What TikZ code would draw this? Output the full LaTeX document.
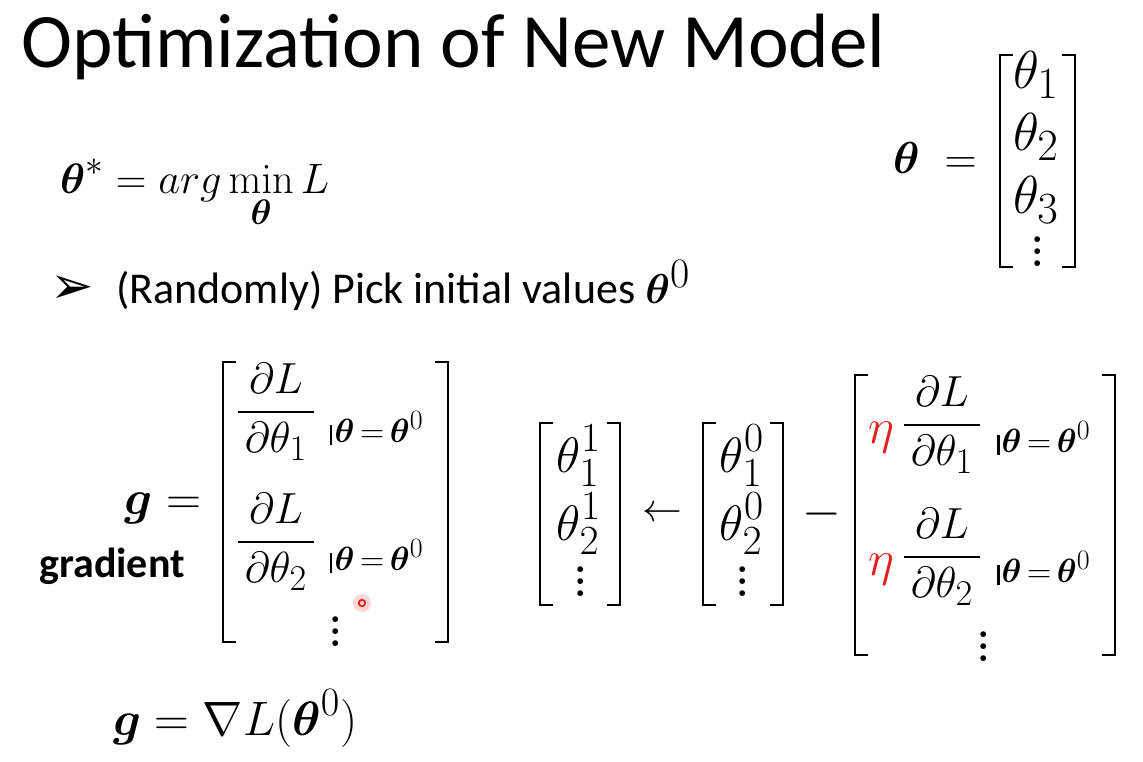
\documentclass[tikz,border=0pt]{standalone}
\usepackage{amsmath,bm,graphicx}
\usepackage[no-math]{fontspec}
\newfontfamily\slidefont{Carlito}
\newfontfamily\symfont{DejaVu Sans}
\definecolor{etared}{RGB}{232,30,30}
\tikzset{
    mth/.style = {inner sep=0pt, font=\fontsize{24.88}{30}\selectfont},
    txt/.style = {inner sep=0pt, font=\fontsize{44}{50}\selectfont\slidefont},
    ev/.style = {inner sep=0pt, anchor=base west, font=\fontsize{24.88}{30}\selectfont},
    brk/.style = {line width=2.8pt}
}
% math is scaled, the cm math fonts stop short of the slide sizes
\newcommand{\mx}[2]{\scalebox{#1}{$\displaystyle #2$}}
\newcommand{\vdts}{\scalebox{1.6}{\vbox{\baselineskip=7.5pt\lineskiplimit=0pt\hbox{\textbf{.}}\hbox{\textbf{.}}\hbox{\textbf{.}}}}}
\newcommand{\evalat}{\scalebox{1.35}{\rule[-2.2pt]{1.7pt}{15pt}\hspace{1.5pt}$\bm{\theta}\,{=}\,\bm{\theta}^{0}$}}
\begin{document}
\begin{tikzpicture}[x=1pt, y=-1pt]
    \useasboundingbox (0,0) rectangle (1143,761);
    \node[inner sep=0pt, anchor=base west, font=\fontsize{77}{80}\selectfont\slidefont] (title) at (21,67) {Optimization of New Model};
    % objective and parameter vector
    \node[mth, anchor=base west] (argmin) at (60,193) {\mx{1.71}{\bm{\theta}^{*} = arg\min_{\bm{\theta}} L}};
    \node[mth, anchor=base] (thetabf) at (935,173) {\mx{1.8}{\bm{\theta}\;=}};
    \node[mth, anchor=base] (t1) at (1036,88) {\mx{2.15}{\theta_1}};
    \node[mth, anchor=base] (t2) at (1036,150) {\mx{2.15}{\theta_2}};
    \node[mth, anchor=base] (t3) at (1036,213) {\mx{2.15}{\theta_3}};
    \node[mth] (tdots) at (1038,252) {\vdts};
    \draw[brk] (1013,55) -| (1000,267) -- (1013,267);
    \draw[brk] (1062,55) -| (1075,267) -- (1062,267);
    % initial values
    \node[inner sep=0pt, font=\fontsize{52}{56}\selectfont\symfont] (bullet) at (72,290) {➢};
    \node[txt, anchor=base west] (pick) at (116,303) {(Randomly) Pick initial values \scalebox{1.68}{$\bm{\theta}^{0}$}};
    % gradient
    \node[mth, anchor=base] (geq) at (163,514) {\mx{1.95}{\bm{g} =}};
    \node[inner sep=0pt, anchor=base, font=\fontsize{42}{48}\selectfont\slidefont\bfseries] (gradlbl) at (112,577) {gradient};
    \node[mth] (f1) at (276,412) {\mx{1.75}{\frac{\partial L}{\,\partial\theta_1\,}}};
    \node[ev] (e1) at (330,442) {\evalat};
    \node[mth] (f2) at (276,542) {\mx{1.75}{\frac{\partial L}{\,\partial\theta_2\,}}};
    \node[ev] (e2) at (330,570) {\evalat};
    \node[mth] (gdots) at (336,632) {\vdts};
    \draw[brk] (236,362) -| (223,642) -- (236,642);
    \draw[brk] (435,362) -| (448,642) -- (435,642);
    \fill[etared, opacity=0.18] (362,603) circle (9);
    \draw[etared, line width=1.8pt] (362,603) circle (3.2);
    % update rule
    \node[mth, anchor=base] (n1a) at (579,472) {\mx{2.0}{\theta_1^1}};
    \node[mth, anchor=base] (n1b) at (579,540) {\mx{2.0}{\theta_2^1}};
    \node[mth] (n1c) at (581,582) {\vdts};
    \draw[brk] (553,423) -| (540,605) -- (553,605);
    \draw[brk] (607,423) -| (620,605) -- (607,605);
    \node[mth] (larrow) at (662,514) {\mx{1.6}{\leftarrow}};
    \node[mth, anchor=base] (n0a) at (742,472) {\mx{2.0}{\theta_1^0}};
    \node[mth, anchor=base] (n0b) at (742,540) {\mx{2.0}{\theta_2^0}};
    \node[mth] (n0c) at (743,582) {\vdts};
    \draw[brk] (716,423) -| (703,605) -- (716,605);
    \draw[brk] (770,423) -| (783,605) -- (770,605);
    \node[mth] (minus) at (822,514) {\mx{2.0}{-}};
    \node[mth, anchor=base, text=etared] (eta1) at (881,443) {\mx{2.0}{\eta}};
    \node[mth] (f3) at (942,425) {\mx{1.75}{\frac{\partial L}{\,\partial\theta_1\,}}};
    \node[ev] (e3) at (997,452) {\evalat};
    \node[mth, anchor=base, text=etared] (eta2) at (881,575) {\mx{2.0}{\eta}};
    \node[mth] (f4) at (942,557) {\mx{1.75}{\frac{\partial L}{\,\partial\theta_2\,}}};
    \node[ev] (e4) at (997,582) {\evalat};
    \node[mth] (bigdots) at (984,647) {\vdts};
    \draw[brk] (868,375) -| (855,655) -- (868,655);
    \draw[brk] (1102,375) -| (1115,655) -- (1102,655);
    % gradient as nabla
    \node[mth, anchor=base west] (gnabla) at (113,735) {\mx{1.94}{\bm{g} = \nabla L(\bm{\theta}^{0})}};
\end{tikzpicture}
\end{document}
